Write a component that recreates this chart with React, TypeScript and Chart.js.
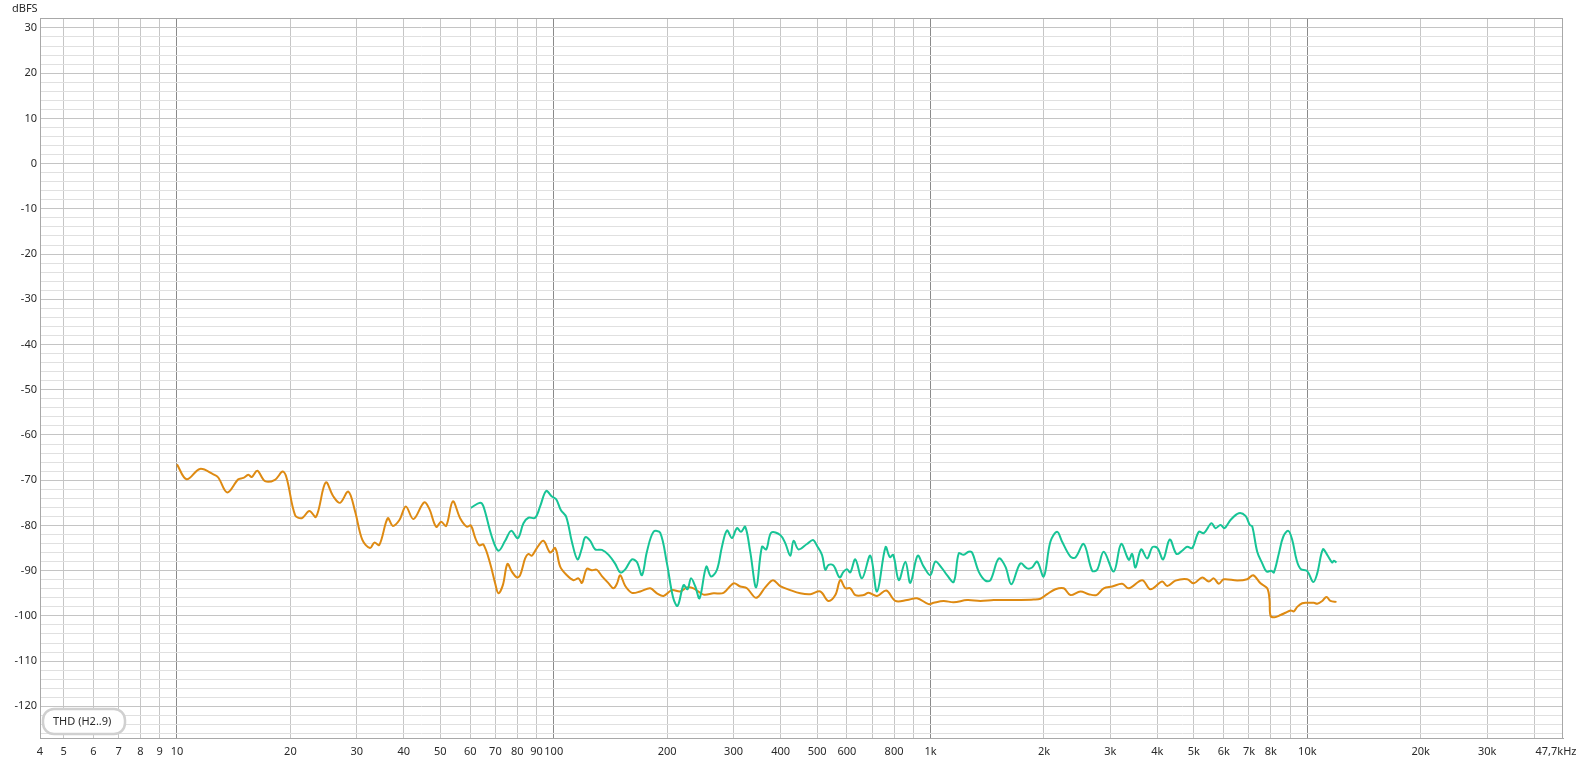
import React, { useEffect, useRef } from "react";
import { Chart, registerables } from "chart.js";
Chart.register(...registerables);

const X_MIN = 4.33;
const X_MAX = 47700;
const Y_MIN = -127;
const Y_MAX = 32.2;

const xTickValues = [X_MIN, 5, 6, 7, 8, 9, 10, 20, 30, 40, 50, 60, 70, 80, 90, 100, 200, 300, 400, 500, 600, 700, 800, 900, 1000, 2000, 3000, 4000, 5000, 6000, 7000, 8000, 9000, 10000, 20000, 30000, 40000];
const xTickLabels = ["4", "5", "6", "7", "8", "9", "10", "20", "30", "40", "50", "60", "70", "80", "90", "100", "200", "300", "400", "500", "600", "", "800", "", "1k", "2k", "3k", "4k", "5k", "6k", "7k", "8k", "", "10k", "20k", "30k", ""];
const xEndLabel = "47,7kHz";
const yTitle = "dBFS";
const legendText = "THD (H2..9)";

const orangeFreq = [
  10.0, 10.61, 11.51, 12.49, 12.87, 13.6, 14.55, 15.0, 15.47, 15.79,
  16.34, 17.13, 18.2, 19.08, 19.56, 20.58, 21.44, 22.46, 23.4, 24.82,
  26.01, 27.09, 28.5, 29.7, 31.05, 32.54, 33.41, 34.45, 36.27, 37.39,
  38.94, 40.49, 42.42, 45.29, 46.78, 48.74, 50.24, 51.81, 53.97, 56.43,
  58.79, 60.25, 61.85, 63.38, 65.07, 67.79, 69.89, 71.31, 73.26, 75.35,
  77.4, 79.8, 81.43, 83.95, 85.66, 87.46, 90.18, 93.9, 97.82, 100.9,
  104.0, 108.3, 112.8, 116.3, 118.8, 122.4, 126.2, 130.1, 134.2, 139.8,
  144.1, 147.1, 150.1, 154.8, 161.2, 169.6, 180.3, 187.8, 195.6, 205.9,
  216.6, 225.7, 234.9, 249.8, 265.5, 282.2, 300.0, 312.6, 325.6, 344.6,
  364.1, 381.7, 399.1, 424.3, 451.1, 479.6, 509.8, 535.4, 558.8, 576.2,
  594.1, 612.5, 631.5, 664.4, 684.9, 721.1, 763.3, 806.5, 866.3, 920.9,
  988.4, 1019, 1083, 1152, 1250, 1356, 1471, 1596, 1731, 1878,
  1957, 2039, 2145, 2257, 2351, 2499, 2629, 2756, 2882, 3034,
  3225, 3358, 3645, 3834, 4118, 4246, 4467, 4799, 4996, 5259,
  5476, 5646, 5821, 6001, 6516, 6925, 7184, 7512, 7826, 7937,
  7986, 8184, 8490, 8754, 9025, 9209, 9402, 9691, 9994, 10405,
  10623, 10953, 11240, 11518, 11950,
];
const orangeDb = [
  -66.5, -69.8, -67.5, -68.7, -69.4, -72.7, -69.8, -69.5, -68.8, -69.3,
  -67.9, -70.2, -69.9, -68.1, -69.6, -77.7, -78.4, -76.8, -78.1, -70.5,
  -73.6, -75.0, -72.5, -76.9, -83.2, -85.0, -83.8, -84.3, -78.4, -80.1,
  -78.8, -75.8, -78.6, -74.9, -76.4, -80.3, -79.2, -80.1, -74.7, -78.4,
  -80.3, -80.0, -82.7, -84.4, -84.2, -88.4, -92.8, -95.0, -93.2, -88.5,
  -90.2, -91.5, -91.0, -87.3, -86.3, -86.7, -85.0, -83.4, -86.0, -85.0,
  -89.1, -91.0, -92.1, -91.7, -92.7, -89.6, -89.9, -89.8, -91.2, -92.8,
  -93.9, -92.9, -91.0, -93.4, -94.9, -94.6, -93.9, -95.0, -95.6, -94.3,
  -94.6, -93.7, -93.9, -95.3, -95.0, -94.9, -92.8, -93.5, -93.9, -96.0,
  -93.7, -92.1, -93.4, -94.3, -95.0, -95.2, -94.6, -96.7, -95.4, -92.1,
  -93.9, -93.9, -95.4, -95.4, -94.9, -95.6, -94.4, -96.7, -96.5, -96.1,
  -97.4, -97.1, -96.7, -97.0, -96.5, -96.7, -96.5, -96.5, -96.5, -96.4,
  -96.2, -95.2, -94.1, -93.9, -95.4, -94.6, -95.2, -95.4, -93.9, -93.5,
  -92.9, -93.9, -92.1, -94.1, -92.4, -93.4, -92.2, -91.9, -92.8, -91.5,
  -92.4, -91.7, -92.9, -91.9, -92.2, -91.9, -91.0, -92.8, -93.9, -96.5,
  -100.0, -100.3, -99.8, -99.3, -98.8, -99.0, -98.0, -97.2, -97.1, -97.1,
  -97.3, -96.7, -95.8, -96.7, -96.9,
];

const greenFreq = [
  60.25, 63.76, 65.07, 68.5, 71.31, 74.3, 77.07, 80.3, 83.1, 85.66,
  89.25, 92.0, 95.46, 98.85, 101.5, 104.4, 107.9, 111.7, 115.6, 118.8,
  121.2, 125.0, 128.8, 134.2, 139.8, 145.6, 150.1, 154.8, 161.2, 166.2,
  171.4, 176.7, 184.0, 191.6, 199.7, 207.2, 213.1, 221.1, 226.5, 231.3,
  237.5, 243.8, 254.0, 261.4, 271.1, 279.5, 288.2, 297.1, 306.4, 314.0,
  322.2, 332.2, 344.6, 356.9, 366.4, 377.8, 399.1, 411.5, 424.3, 433.0,
  446.4, 469.9, 487.5, 499.5, 515.1, 525.6, 536.3, 553.0, 573.7, 587.9,
  600.3, 612.5, 631.5, 657.9, 692.2, 721.1, 759.6, 779.9, 796.2, 823.9,
  857.4, 884.0, 924.3, 958.9, 998.8, 1030, 1073, 1106, 1152, 1188,
  1224, 1262, 1289, 1342, 1398, 1442, 1517, 1580, 1639, 1731,
  1804, 1860, 1918, 1997, 2080, 2167, 2235, 2351, 2424, 2550,
  2685, 2768, 2882, 3064, 3205, 3358, 3428, 3498, 3622, 3758,
  3881, 4002, 4143, 4314, 4494, 4653, 4799, 4947, 5151, 5311,
  5567, 5705, 5882, 6028, 6253, 6578, 6853, 7036, 7140, 7362,
  7591, 7793, 8021, 8150, 8402, 8631, 8899, 9119, 9362, 9593,
  9994, 10367, 10623, 10994, 11290, 11638, 11752, 11950,
];
const greenDb = [
  -76.1, -75.0, -75.8, -82.5, -85.6, -83.4, -81.2, -82.8, -79.5, -78.3,
  -78.3, -75.8, -72.4, -73.6, -74.2, -76.6, -78.1, -83.6, -87.5, -85.0,
  -82.6, -83.4, -85.3, -85.4, -86.5, -88.5, -90.4, -89.7, -87.5, -88.1,
  -91.0, -85.8, -81.4, -81.6, -88.4, -95.8, -97.8, -93.2, -94.1, -91.7,
  -93.5, -96.1, -89.1, -91.3, -89.8, -84.7, -81.1, -82.8, -80.6, -81.4,
  -80.3, -85.8, -93.7, -84.7, -85.3, -81.6, -82.1, -83.9, -86.7, -83.4,
  -85.3, -84.1, -83.2, -84.5, -86.5, -89.8, -88.7, -88.9, -91.5, -90.2,
  -89.7, -90.4, -87.5, -91.7, -86.7, -94.6, -84.8, -87.0, -86.5, -92.1,
  -88.0, -92.7, -86.7, -89.1, -91.0, -88.0, -89.5, -91.0, -92.5, -86.2,
  -86.5, -85.8, -86.0, -90.2, -92.2, -92.1, -87.3, -89.1, -93.0, -88.4,
  -89.5, -89.3, -88.0, -91.3, -83.6, -81.4, -83.6, -86.9, -87.1, -84.1,
  -90.0, -89.8, -85.8, -90.2, -84.1, -87.6, -86.3, -89.3, -85.3, -87.3,
  -84.8, -85.0, -87.5, -83.1, -86.3, -85.6, -84.7, -85.0, -81.4, -81.7,
  -79.5, -80.6, -79.9, -80.6, -78.8, -77.3, -77.9, -79.9, -80.2, -85.8,
  -88.4, -90.2, -90.0, -90.4, -86.2, -82.5, -81.2, -83.2, -87.6, -89.6,
  -90.1, -92.5, -90.6, -85.3, -86.5, -88.2, -87.8, -88.2,
];

const ORANGE = "#de8a12";
const GREEN = "#17c496";
const FONT = "'Noto Sans', 'DejaVu Sans', sans-serif";
const TEXT = "#2a2a2a";

const yTickValues: number[] = [];
for (let v = -126; v <= 32; v += 2) yTickValues.push(v);

export default function App() {
  const ref = useRef<HTMLCanvasElement | null>(null);

  useEffect(() => {
    const canvas = ref.current;
    if (!canvas) return;

    const overlay = {
      id: "overlay",
      beforeDatasetsDraw(chart: any) {
        const { ctx, chartArea: a } = chart;
        ctx.save();
        ctx.strokeStyle = "#a8a8a8";
        ctx.lineWidth = 1;
        ctx.strokeRect(a.left + 0.5, a.top + 0.5, a.right - a.left - 1, a.bottom - a.top);
        ctx.restore();
      },
      afterDraw(chart: any) {
        const { ctx, chartArea: a } = chart;
        ctx.save();
        ctx.font = `11px ${FONT}`;
        ctx.fillStyle = TEXT;
        ctx.textBaseline = "middle";
        ctx.textAlign = "left";
        ctx.fillText(yTitle, 12, 8.5);
        ctx.textAlign = "center";
        ctx.fillText(xEndLabel, a.right - 7, a.bottom + 14);
        // legend box
        const bx = a.left + 3, by = a.bottom - 29, bw = 82, bh = 25;
        ctx.beginPath();
        (ctx as any).roundRect(bx, by, bw, bh, 11);
        ctx.fillStyle = "#ffffff";
        ctx.fill();
        ctx.lineWidth = 2.5;
        ctx.strokeStyle = "#d0d0d0";
        ctx.stroke();
        ctx.fillStyle = TEXT;
        ctx.textAlign = "left";
        ctx.fillText(legendText, bx + 10, by + bh / 2 + 0.5);
        ctx.restore();
      },
    };

    const chart = new Chart(canvas, {
      type: "line",
      data: {
        datasets: [
          {
            label: "green",
            data: greenFreq.map((x, i) => ({ x, y: greenDb[i] })),
            borderColor: GREEN,
            borderWidth: 2,
            pointRadius: 0,
            tension: 0.35,
            fill: false,
          },
          {
            label: "orange",
            data: orangeFreq.map((x, i) => ({ x, y: orangeDb[i] })),
            borderColor: ORANGE,
            borderWidth: 2,
            pointRadius: 0,
            tension: 0.35,
            fill: false,
          },
        ],
      },
      options: {
        responsive: false,
        animation: false,
        layout: { padding: { left: 0, top: 18, right: 20, bottom: 0 }, autoPadding: false } as any,
        plugins: { legend: { display: false }, tooltip: { enabled: false } },
        scales: {
          x: {
            type: "logarithmic",
            min: X_MIN,
            max: X_MAX,
            afterBuildTicks: (s: any) => {
              s.ticks = xTickValues.map((v) => ({ value: v }));
            },
            afterFit: (s: any) => {
              s.height = 25;
            },
            ticks: {
              autoSkip: false,
              maxRotation: 0,
              minRotation: 0,
              padding: 7,
              color: TEXT,
              font: { family: FONT, size: 11 },
              callback: (_v: any, i: number) => xTickLabels[i],
            },
            grid: {
              drawTicks: false,
              lineWidth: 1,
              color: (c: any) => {
                const v = c.tick ? c.tick.value : 0;
                if (v === 10 || v === 100 || v === 1000 || v === 10000) return "#8a8a8a";
                if (v === X_MIN) return "#a8a8a8";
                return "#c6c6c6";
              },
            },
            border: { display: true, color: "#a8a8a8" },
          },
          y: {
            type: "linear",
            min: Y_MIN,
            max: Y_MAX,
            afterBuildTicks: (s: any) => {
              s.ticks = yTickValues.map((v) => ({ value: v }));
            },
            afterFit: (s: any) => {
              s.width = 40;
            },
            ticks: {
              autoSkip: false,
              padding: 3,
              color: TEXT,
              font: { family: FONT, size: 11 },
              callback: (v: any) => (Number(v) % 10 === 0 ? String(v) : ""),
            },
            grid: {
              drawTicks: false,
              lineWidth: 1,
              color: (c: any) => {
                const v = c.tick ? c.tick.value : 0;
                return v % 10 === 0 ? "#c4c4c4" : "#e0e0e0";
              },
            },
            border: { display: true, color: "#a8a8a8" },
          },
        },
      } as any,
      plugins: [overlay],
    });

    return () => chart.destroy();
  }, []);

  return (
    <div style={{ position: "fixed", left: 0, top: 0, width: 1583, height: 763, background: "#ffffff" }}>
      <canvas ref={ref} width={1583} height={763} style={{ display: "block" }} />
    </div>
  );
}
